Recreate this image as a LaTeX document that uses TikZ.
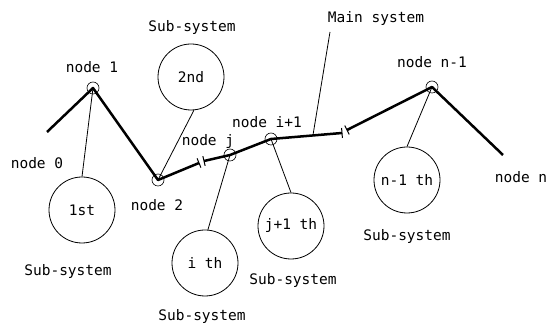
\documentclass[tikz,border=0pt]{standalone}
\usepackage{fontspec}
\setmainfont{DejaVu Sans Mono}
\usetikzlibrary{arrows.meta,calc}
\begin{document}
\begin{tikzpicture}[x=1pt,y=-1pt,
  lbl/.style={font=\fontsize{14.5}{16}\selectfont, inner sep=0pt},
  subsys/.style={circle, draw, line width=0.8pt, minimum size=66pt, inner sep=0pt, font=\fontsize{14.5}{16}\selectfont},
  joint/.style={circle, draw, line width=0.6pt, minimum size=12pt, inner sep=0pt},
  mainline/.style={line width=2.5pt},
  leader/.style={line width=0.8pt},
  tick/.style={line width=1pt}]
\useasboundingbox (0,0) rectangle (558,328);
% joints
\coordinate (n0) at (47,132);
\node[joint] (n1) at (93,88) {};
\node[joint] (n2) at (158,180) {};
\node[joint] (nj) at (230,155) {};
\node[joint] (ni1) at (271,139) {};
\node[joint] (nn1) at (432,87) {};
\coordinate (nn) at (503,155);
\coordinate (b1) at (199,163);
\coordinate (b2) at (204,161);
\coordinate (b3) at (342,133);
\coordinate (b4) at (347,130);
\coordinate (ms) at (313,135);
\coordinate (mst) at (330,32);
% main line
\draw[mainline, line join=round] (n0) -- (n1.center) -- (n2.center) -- (b1);
\draw[mainline, line join=round] (b2) -- (nj.center) -- (ni1.center) -- (b3);
\draw[mainline, line join=round] (b4) -- (nn1.center) -- (nn);
% break ticks
\draw[tick] ($(b1)!5pt!90:(n2)$) -- ($(b1)!5pt!-90:(n2)$);
\draw[tick] ($(b2)!5pt!90:(nj)$) -- ($(b2)!5pt!-90:(nj)$);
\draw[tick] ($(b3)!5pt!90:(ni1)$) -- ($(b3)!5pt!-90:(ni1)$);
\draw[tick] ($(b4)!5pt!90:(nn1)$) -- ($(b4)!5pt!-90:(nn1)$);
% sub-systems
\node[subsys] (c1) at (82,210) {1st};
\node[subsys] (c2) at (191,77) {2nd};
\node[subsys] (ci) at (205,263) {i th};
\node[subsys] (cj) at (291,226) {j+1 th};
\node[subsys] (cn) at (407,180) {n-1 th};
% leaders
\draw[leader] (n1.center) -- (c1.north);
\draw[leader] (n2.center) -- (c2.-85);
\draw[leader] (nj.center) -- (ci.85);
\draw[leader] (ni1.center) -- (cj.north);
\draw[leader] (nn1.center) -- (cn.north);
\draw[leader] (mst) -- (ms);
% labels
\node[lbl] at (192,28) {Sub-system};
\node[lbl] at (92,67) {node 1};
\node[lbl] at (37,163) {node 0};
\node[lbl] at (157,205) {node 2};
\node[lbl] at (208,142) {node j};
\node[lbl] at (267,122) {node i+1};
\node[lbl] at (376,19) {Main system};
\node[lbl] at (432,62) {node n-1};
\node[lbl] at (521,177) {node n};
\node[lbl] at (68,272) {Sub-system};
\node[lbl] at (202,317) {Sub-system};
\node[lbl] at (293,281) {Sub-system};
\node[lbl] at (407,237) {Sub-system};
\end{tikzpicture}
\end{document}
